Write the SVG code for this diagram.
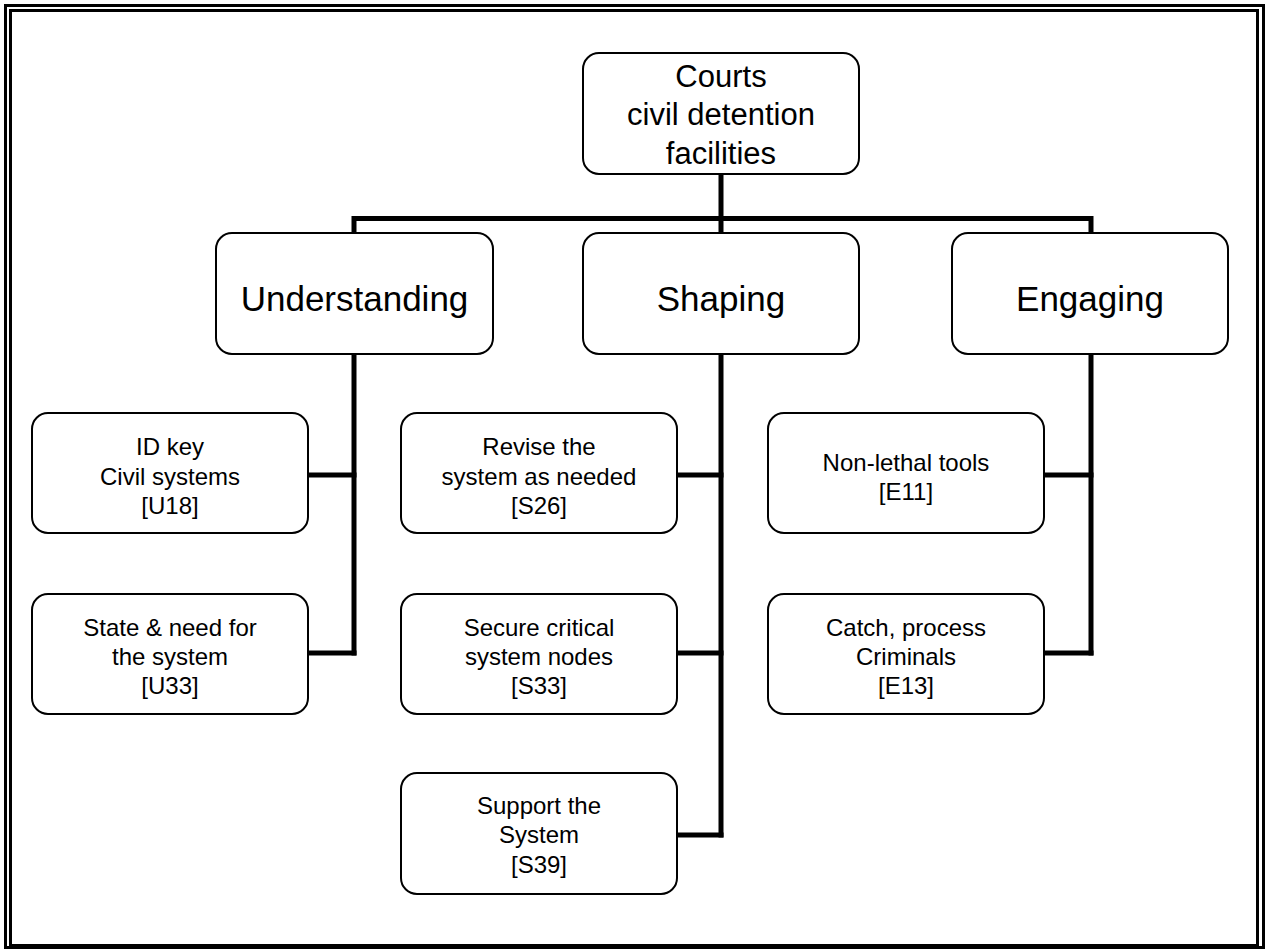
<svg xmlns="http://www.w3.org/2000/svg" width="1266" height="950" viewBox="0 0 1266 950">
<style>
.frame{fill:none;stroke:#000;stroke-width:3}
.box{fill:#fff;stroke:#000;stroke-width:2}
.conn{fill:none;stroke:#000;stroke-width:5;stroke-linecap:square}
text{font-family:"Liberation Sans",Arial,sans-serif;fill:#000;text-anchor:middle}
.t1{font-size:31px}
.t2{font-size:35px}
.t3{font-size:24px}
</style>
<rect width="1266" height="950" fill="#fff"/>
<rect class="frame" x="5.5" y="5.5" width="1258" height="942"/>
<rect class="frame" x="10.5" y="10.5" width="1247" height="935"/>
<g id="connectors">
<path class="conn" d="M721 174V218.5M354 218.5H1091M354 218.5V233M721 218.5V233M1091 218.5V233"/>
<path class="conn" d="M354 354V653M721 354V835M1091 354V653"/>
<path class="conn" d="M308 475H354M308 653H354M677 475H721M677 653H721M677 835H721M1044 475H1091M1044 653H1091"/>
</g>
<g id="root">
<rect class="box" x="583" y="53" width="276" height="121" rx="16"/>
<text class="t1" x="721" y="87">Courts</text>
<text class="t1" x="721" y="125">civil detention</text>
<text class="t1" x="721" y="164">facilities</text>
</g>
<g id="understanding">
<rect class="box" x="216" y="233" width="277" height="121" rx="16"/>
<text class="t2" x="354.5" y="311">Understanding</text>
</g>
<g id="shaping">
<rect class="box" x="583" y="233" width="276" height="121" rx="16"/>
<text class="t2" x="721" y="311">Shaping</text>
</g>
<g id="engaging">
<rect class="box" x="952" y="233" width="276" height="121" rx="16"/>
<text class="t2" x="1090" y="311">Engaging</text>
</g>
<g id="u18">
<rect class="box" x="32" y="413" width="276" height="120" rx="16"/>
<text class="t3" x="170" y="455">ID key</text>
<text class="t3" x="170" y="485">Civil systems</text>
<text class="t3" x="170" y="514">[U18]</text>
</g>
<g id="u33">
<rect class="box" x="32" y="594" width="276" height="120" rx="16"/>
<text class="t3" x="170" y="636">State &amp; need for</text>
<text class="t3" x="170" y="665">the system</text>
<text class="t3" x="170" y="694">[U33]</text>
</g>
<g id="s26">
<rect class="box" x="401" y="413" width="276" height="120" rx="16"/>
<text class="t3" x="539" y="455">Revise the</text>
<text class="t3" x="539" y="485">system as needed</text>
<text class="t3" x="539" y="514">[S26]</text>
</g>
<g id="s33">
<rect class="box" x="401" y="594" width="276" height="120" rx="16"/>
<text class="t3" x="539" y="636">Secure critical</text>
<text class="t3" x="539" y="665">system nodes</text>
<text class="t3" x="539" y="694">[S33]</text>
</g>
<g id="s39">
<rect class="box" x="401" y="773" width="276" height="121" rx="16"/>
<text class="t3" x="539" y="814">Support the</text>
<text class="t3" x="539" y="843">System</text>
<text class="t3" x="539" y="873">[S39]</text>
</g>
<g id="e11">
<rect class="box" x="768" y="413" width="276" height="120" rx="16"/>
<text class="t3" x="906" y="471">Non-lethal tools</text>
<text class="t3" x="906" y="500">[E11]</text>
</g>
<g id="e13">
<rect class="box" x="768" y="594" width="276" height="120" rx="16"/>
<text class="t3" x="906" y="636">Catch, process</text>
<text class="t3" x="906" y="665">Criminals</text>
<text class="t3" x="906" y="694">[E13]</text>
</g>
</svg>
